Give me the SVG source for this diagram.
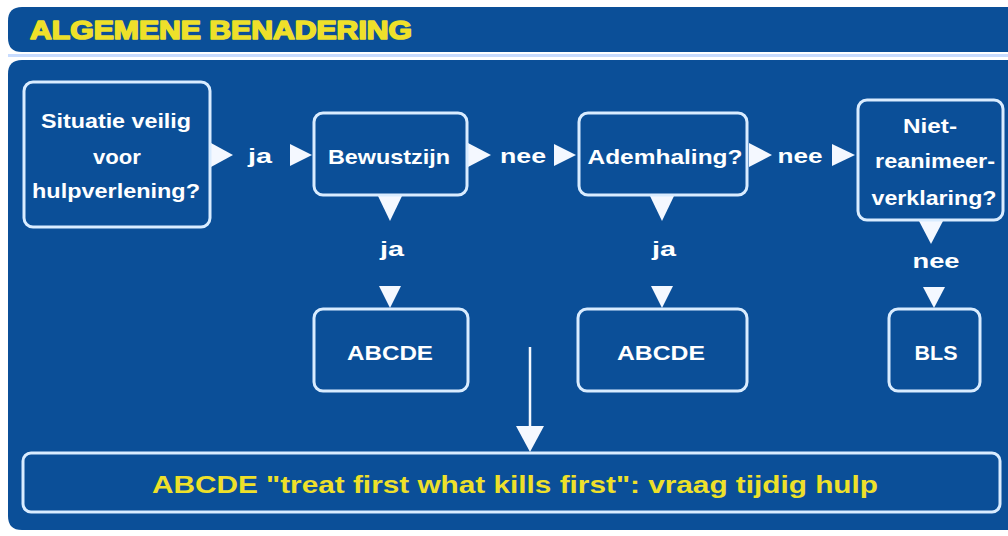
<svg xmlns="http://www.w3.org/2000/svg" width="1008" height="536" viewBox="0 0 1008 536">
<defs>
<style>
.bg{fill:#0b4f98}
.box{fill:#0b4f98;stroke:#d9ecff;stroke-width:3}
.t{font-family:"Liberation Sans",Arial,sans-serif;font-weight:bold;font-size:21px;fill:#ffffff;text-anchor:middle;dominant-baseline:central}
.lbl{font-family:"Liberation Sans",Arial,sans-serif;font-weight:bold;font-size:21px;fill:#ffffff;text-anchor:middle;dominant-baseline:central}
.tri{fill:#f4f8ff}
.y{font-family:"Liberation Sans",Arial,sans-serif;font-weight:bold;fill:#eee02a;text-anchor:middle;dominant-baseline:central}
</style>
</defs>
<rect width="1008" height="536" fill="#ffffff"/>
<g id="header">
<path class="bg" d="M22,7 H1008 V52 H22 Q8,52 8,38 V21 Q8,7 22,7 Z"/>
<text class="y" x="221" y="30" font-size="26" textLength="382" lengthAdjust="spacingAndGlyphs" stroke="#eee02a" stroke-width="1.6" stroke-linejoin="round">ALGEMENE BENADERING</text>
<rect x="8" y="54" width="1000" height="3" fill="#c8dcff"/>
</g>
<g id="panel">
<path class="bg" d="M22,60 H1008 V530 H22 Q8,530 8,516 V74 Q8,60 22,60 Z"/>
</g>
<g id="connectors">
<polygon class="tri" points="211,143 233,155 211,167"/>
<text class="lbl" x="260" y="155" textLength="24" lengthAdjust="spacingAndGlyphs">ja</text>
<polygon class="tri" points="290,144 312,155 290,166"/>
<polygon class="tri" points="468,143 491,155 468,167"/>
<text class="lbl" x="523" y="155" textLength="46" lengthAdjust="spacingAndGlyphs">nee</text>
<polygon class="tri" points="554,144 576,155 554,166"/>
<polygon class="tri" points="749,143 772,155 749,167"/>
<text class="lbl" x="800" y="155" textLength="45" lengthAdjust="spacingAndGlyphs">nee</text>
<polygon class="tri" points="832,144 855,155 832,166"/>
<polygon class="tri" points="378,196 402,196 390,221"/>
<text class="lbl" x="392" y="248" textLength="24" lengthAdjust="spacingAndGlyphs">ja</text>
<polygon class="tri" points="379,286 401,286 390,308"/>
<polygon class="tri" points="650,196 674,196 662,221"/>
<text class="lbl" x="664" y="248" textLength="24" lengthAdjust="spacingAndGlyphs">ja</text>
<polygon class="tri" points="651,286 673,286 662,308"/>
<polygon class="tri" points="919,221 943,221 931,244"/>
<text class="lbl" x="936" y="260" textLength="47" lengthAdjust="spacingAndGlyphs">nee</text>
<polygon class="tri" points="923,287 945,287 934,308"/>
<line x1="530" y1="347" x2="530" y2="428" stroke="#f4f8ff" stroke-width="2.5"/>
<polygon class="tri" points="516,426 544,426 530,452"/>
</g>
<g id="n1">
<rect class="box" x="24" y="82" width="186" height="145" rx="9"/>
<text class="t" x="116" y="120" textLength="150" lengthAdjust="spacingAndGlyphs">Situatie veilig</text>
<text class="t" x="117" y="156" textLength="48" lengthAdjust="spacingAndGlyphs">voor</text>
<text class="t" x="116" y="190" textLength="168" lengthAdjust="spacingAndGlyphs">hulpverlening?</text>
</g>
<g id="n2">
<rect class="box" x="314" y="113" width="153" height="82" rx="9"/>
<text class="t" x="389" y="156" textLength="122" lengthAdjust="spacingAndGlyphs">Bewustzijn</text>
</g>
<g id="n3">
<rect class="box" x="579" y="113" width="168" height="82" rx="9"/>
<text class="t" x="665" y="156" textLength="155" lengthAdjust="spacingAndGlyphs">Ademhaling?</text>
</g>
<g id="n4">
<rect class="box" x="858" y="100" width="145" height="120" rx="9"/>
<text class="t" x="930" y="125" textLength="54" lengthAdjust="spacingAndGlyphs">Niet-</text>
<text class="t" x="935" y="160" textLength="120" lengthAdjust="spacingAndGlyphs">reanimeer-</text>
<text class="t" x="934" y="197" textLength="125" lengthAdjust="spacingAndGlyphs">verklaring?</text>
</g>
<g id="n5">
<rect class="box" x="314" y="309" width="154" height="82" rx="9"/>
<text class="t" x="390" y="352" textLength="86" lengthAdjust="spacingAndGlyphs">ABCDE</text>
</g>
<g id="n6">
<rect class="box" x="578" y="309" width="169" height="82" rx="9"/>
<text class="t" x="661" y="352" textLength="88" lengthAdjust="spacingAndGlyphs">ABCDE</text>
</g>
<g id="n7">
<rect class="box" x="889" y="309" width="91" height="82" rx="9"/>
<text class="t" x="936" y="352" textLength="43" lengthAdjust="spacingAndGlyphs">BLS</text>
</g>
<g id="n8">
<rect class="box" x="23" y="453" width="977" height="59" rx="8"/>
<text class="y" x="515" y="484" font-size="24" textLength="726" lengthAdjust="spacingAndGlyphs">ABCDE "treat first what kills first": vraag tijdig hulp</text>
</g>
</svg>
